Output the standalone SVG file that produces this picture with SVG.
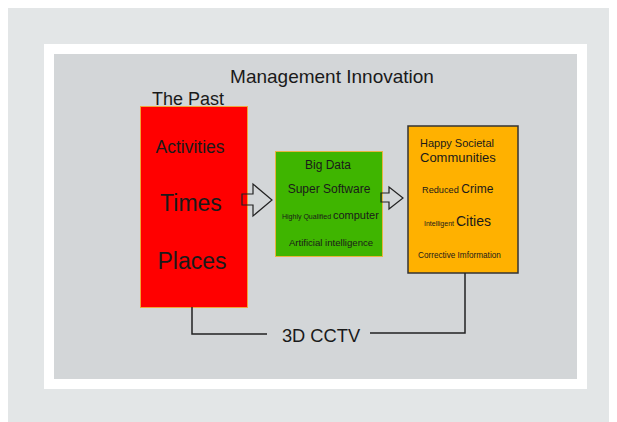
<svg xmlns="http://www.w3.org/2000/svg" width="617" height="422" viewBox="0 0 617 422">
<style>
text{font-family:"Liberation Sans",Arial,sans-serif;fill:#1a1a1a}
.conn{fill:none;stroke:#222;stroke-width:1.5}
.harrow{fill:none;stroke:#222;stroke-width:1.2;stroke-linejoin:miter}
</style>
<rect x="0" y="0" width="617" height="422" fill="#ffffff"/>
<rect x="8" y="8" width="601" height="414" fill="#e3e6e7"/>
<rect x="44" y="44" width="543" height="345" fill="#ffffff"/>
<rect x="54" y="54" width="523" height="325" fill="#d3d6d8"/>
<text x="332" y="83" font-size="19" text-anchor="middle">Management Innovation</text>
<g id="past">
<text x="152" y="105" font-size="18">The Past</text>
<rect x="140.5" y="106.5" width="107" height="201" fill="#ff0000" stroke="#f2a43a" stroke-width="1"/>
<text x="190" y="153" font-size="17.5" text-anchor="middle">Activities</text>
<text x="191" y="211" font-size="23" text-anchor="middle">Times</text>
<text x="192" y="269" font-size="23" text-anchor="middle">Places</text>
</g>
<g id="tech">
<rect x="275.5" y="151.5" width="107" height="105" fill="#3fb500" stroke="#e8b440" stroke-width="1"/>
<text x="328" y="169" font-size="12" text-anchor="middle">Big Data</text>
<text x="329" y="193" font-size="12" text-anchor="middle">Super Software</text>
<text x="282" y="219"><tspan font-size="7">Highly Qualified </tspan><tspan font-size="11">computer</tspan></text>
<text x="331" y="246" font-size="9.6" text-anchor="middle">Artificial intelligence</text>
</g>
<g id="outcome">
<rect x="408" y="126" width="110" height="147" fill="#ffb100" stroke="#333" stroke-width="1.5"/>
<text x="420" y="147" font-size="11">Happy Societal</text>
<text x="420" y="162" font-size="13">Communities</text>
<text x="422" y="193"><tspan font-size="9.2">Reduced </tspan><tspan font-size="12">Crime</tspan></text>
<text x="424" y="226"><tspan font-size="7">Intelligent </tspan><tspan font-size="14">Cities</tspan></text>
<text x="418" y="258" font-size="8.2">Corrective Imformation</text>
</g>
<g id="connectors">
<polygon class="harrow" points="242,194 253,194 253,184 272,200 253,216 253,205 242,205"/>
<polygon class="harrow" points="381,193 389,193 389,187 403,198 389,209 389,202 381,202"/>
<polyline class="conn" points="192,307 192,334 267,334"/>
<polyline class="conn" points="370,333 465,333 465,273"/>
</g>
<text x="321" y="342" font-size="18.3" text-anchor="middle">3D CCTV</text>
</svg>
